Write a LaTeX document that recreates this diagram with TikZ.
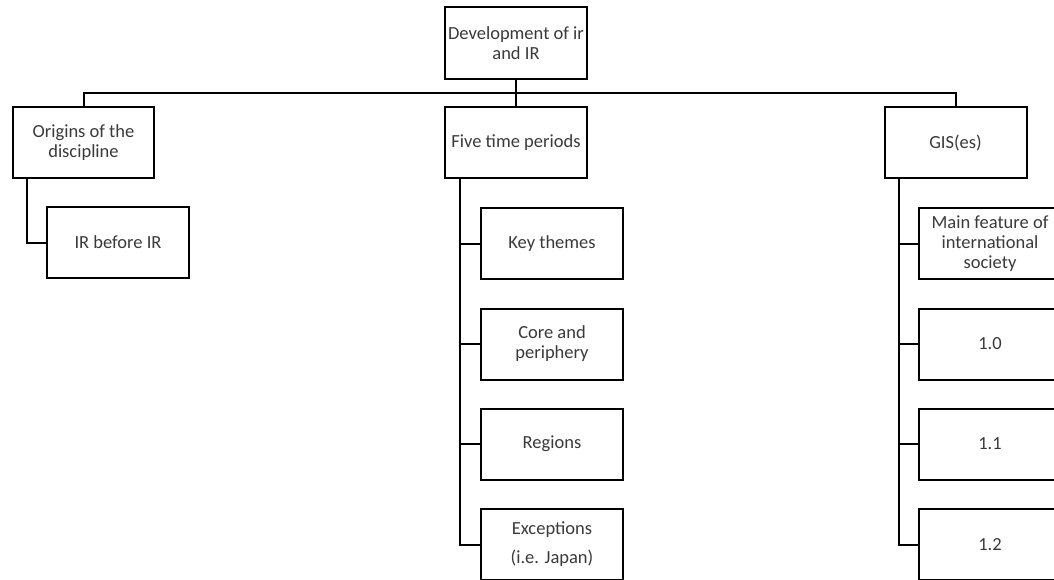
\documentclass[tikz,border=0pt]{standalone}
\usepackage{fontspec}
\setmainfont{Carlito}
\definecolor{txt}{HTML}{3A3A3A}
\tikzset{
  box/.style={draw=black, line width=2pt, fill=white, minimum width=142pt, minimum height=71pt,
    inner sep=0pt, align=center, text=txt, font=\fontsize{18.5}{20}\selectfont},
  conn/.style={draw=black, line width=2pt}
}
\begin{document}
\begin{tikzpicture}[x=1pt,y=-1pt]
\useasboundingbox (0,0) rectangle (1054,580);
\clip (0,0) rectangle (1054,580);
\fill[white] (0,0) rectangle (1054,580);
\coordinate (bus) at (0,93);
\coordinate (tO) at (27,0);
\coordinate (tF) at (460,0);
\coordinate (tG) at (899,0);
% connectors first
\node[box, minimum height=72pt] (root) at (516,43) {Development of ir\\and IR};
\node[box, minimum width=141pt] (orig) at (83.5,143) {Origins of the\\discipline};
\node[box] (five) at (516,143) {Five time periods};
\node[box] (gis) at (955.5,143) {GIS(es)};
\node[box] (irb) at (118,242.5) {IR before IR};
\node[box] (kt) at (552,243.5) {Key themes};
\node[box] (cp) at (552,344) {Core and\\periphery};
\node[box] (rg) at (552,444) {Regions};
\node[box] (ex) at (552,544.5) {Exceptions\\[9pt](i.e. Japan)};
\node[box] (mf) at (990,243.5) {Main feature of\\international\\society};
\node[box] (v10) at (990,344) {1.0};
\node[box] (v11) at (990,444) {1.1};
\node[box] (v12) at (990,544.5) {1.2};
\draw[conn, line width=2.6pt] (root.south) -- (root.south |- bus);
\draw[conn] (root.south |- bus) -| (orig.north);
\draw[conn] (root.south |- bus) -| (gis.north);
\draw[conn] (root.south |- bus) -- (five.north);
\draw[conn] (orig.south -| tO) |- (irb.west);
\draw[conn] (five.south -| tF) |- (ex.west);
\draw[conn] (tF |- kt.west) -- (kt.west);
\draw[conn] (tF |- cp.west) -- (cp.west);
\draw[conn] (tF |- rg.west) -- (rg.west);
\draw[conn] (gis.south -| tG) |- (v12.west);
\draw[conn] (tG |- mf.west) -- (mf.west);
\draw[conn] (tG |- v10.west) -- (v10.west);
\draw[conn] (tG |- v11.west) -- (v11.west);
\end{tikzpicture}
\end{document}
